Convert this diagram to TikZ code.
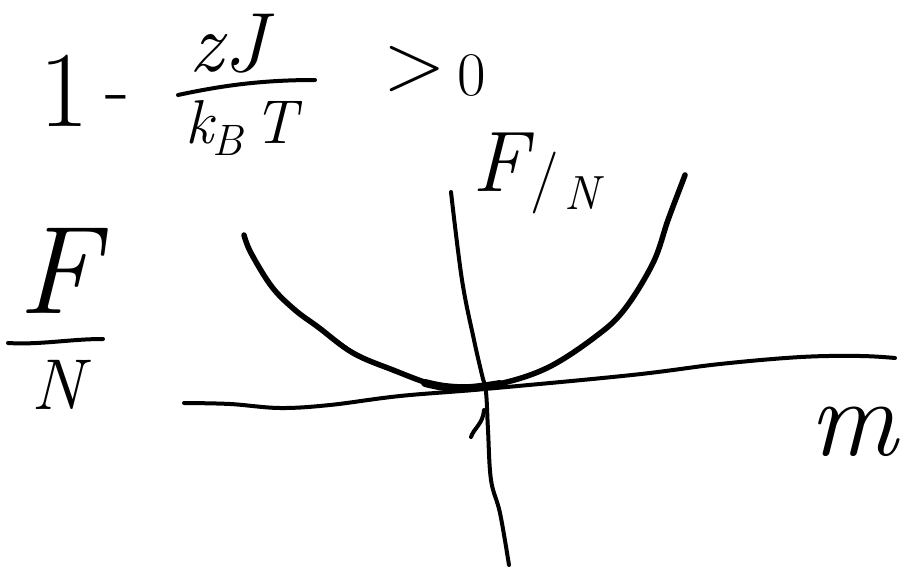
\documentclass[tikz,border=0pt]{standalone}
\usepackage{fontspec}
\begin{document}
\begin{tikzpicture}[x=1pt,y=-1pt,
  stroke/.style={line width=4pt,line cap=round,line join=round},
  curve/.style={line width=5.5pt,line cap=round,line join=round},
  lbl/.style={inner sep=0pt,anchor=base},
  fs/.style={font=\fontsize{#1}{#1}\selectfont}]
\useasboundingbox (0,0) rectangle (906,567);
\clip (0,0) rectangle (906,567);
% formula 1 - zJ/(k_B T) > 0
\node[lbl,fs=108] (one) at (64,127) {1};
\node[inner sep=0pt,fs=80] (minus) at (118,105) {-};
\node[lbl,fs=84] (num) at (228,72) {\itshape zJ};
\coordinate (barL) at (178,95);
\coordinate (barR) at (315,80);
\draw[stroke] (barL) .. controls (220,86) and (260,80) .. (barR);
\node[lbl,fs=62] (den) at (241,144) {\itshape k\raisebox{-0.18em}{\fontsize{44}{44}\selectfont B}\,T};
\node[inner sep=0pt,fs=82] (gt) at (415,69) {>};
\node[inner sep=0pt,fs=62] (zero) at (472,76) {0};
% label F/N near the vertical axis
\node[lbl,fs=86] (F2) at (500,192) {\itshape F};
\node[inner sep=0pt,fs=62] (sl2) at (545,183) {/};
\node[lbl,fs=48] (N2) at (582,210) {\itshape N};
% left label F over N
\node[lbl,fs=125] (F1) at (58,313) {\itshape F};
\coordinate (b1L) at (8,343);
\coordinate (b1R) at (103,339);
\draw[stroke] (b1L) .. controls (40,345) and (70,339) .. (b1R);
\node[lbl,fs=72] (N1) at (58,409) {\itshape N};
% m label
\node[lbl,fs=110] (m) at (853,455) {\itshape m};
% horizontal axis
\draw[stroke] plot[smooth,tension=0.6] coordinates {(184,403) (230,404) (280,408) (330,405) (400,396) (485,389) (632,375) (720,364) (801,357) (860,356) (895,358)};
% vertical axis
\draw[stroke] plot[smooth,tension=0.6] coordinates {(451,192) (462,280) (474,340) (482,375) (486,392) (488,430) (491,480) (500,513) (509,565)};
\coordinate (hk1) at (484,410);
\coordinate (hk2) at (471,437);
\draw[stroke] (hk1) .. controls (483,424) and (474,428) .. (hk2);
% parabola
\draw[curve] plot[smooth,tension=0.6] coordinates {(244,235) (251,253) (272,287) (295,310) (318,327) (353,353) (393,370) (434,385) (462,388) (503,383) (549,367) (595,337) (624,310) (653,263) (668,220) (682,183) (685,175)};
\draw[line width=8pt,line cap=round] plot[smooth,tension=0.6] coordinates {(425,383) (445,387) (470,388) (500,384)};
\end{tikzpicture}
\end{document}
